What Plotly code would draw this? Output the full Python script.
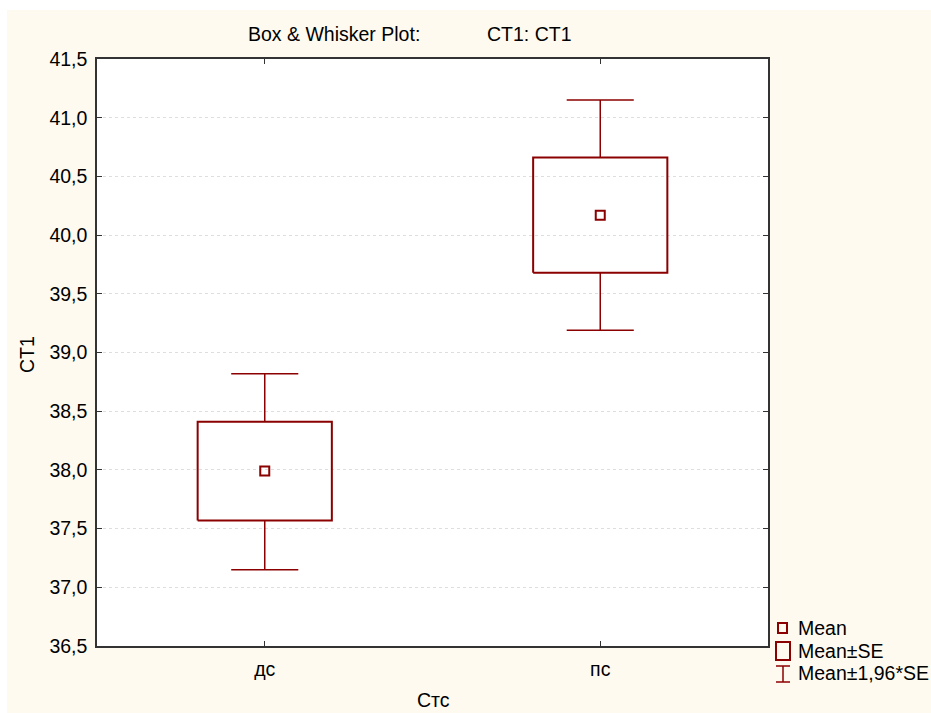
import plotly.graph_objects as go

# ---- data ----
categories = ["дс", "пс"]
mean = [37.99, 40.17]
se_low = [37.57, 39.68]
se_high = [38.41, 40.66]
ci_low = [37.15, 39.19]
ci_high = [38.82, 41.15]
y_tickvals = [36.5, 37.0, 37.5, 38.0, 38.5, 39.0, 39.5, 40.0, 40.5, 41.0, 41.5]
y_ticktext = ["36,5", "37,0", "37,5", "38,0", "38,5", "39,0", "39,5", "40,0", "40,5", "41,0", "41,5"]

W, H = 931, 713
L, R, T, B = 97, 768, 59, 646
FONT = "Liberation Sans, Arial, sans-serif"
RED = "#8B0000"
CREAM = "#FEFAF0"
FS = 19.5

def px(x):
    return (x - L) / (R - L)

def py(y):
    return (B - y) / (B - T)

fig = go.Figure()
box_half = 0.2
cap_half = 0.1
xs = list(range(len(categories)))
for i in xs:
    # Mean ± SE box
    fig.add_trace(go.Scatter(
        x=[i - box_half, i + box_half, i + box_half, i - box_half, i - box_half],
        y=[se_low[i], se_low[i], se_high[i], se_high[i], se_low[i]],
        mode="lines", line=dict(color=RED, width=2), showlegend=False, hoverinfo="skip"))
    # whiskers
    fig.add_trace(go.Scatter(
        x=[i, i, None, i - cap_half, i + cap_half, None, i, i, None, i - cap_half, i + cap_half],
        y=[se_high[i], ci_high[i], None, ci_high[i], ci_high[i], None,
           se_low[i], ci_low[i], None, ci_low[i], ci_low[i]],
        mode="lines", line=dict(color=RED, width=1.5), showlegend=False, hoverinfo="skip"))
# means
fig.add_trace(go.Scatter(
    x=xs, y=mean, mode="markers",
    marker=dict(symbol="square-open", size=9, color=RED, line=dict(color=RED, width=2)),
    showlegend=False))

shapes = []
# white strips at top and left of the page
shapes.append(dict(type="rect", xref="paper", yref="paper", x0=px(-5), x1=px(W + 5),
                   y0=py(10), y1=py(-5), fillcolor="white", line=dict(width=0), layer="above"))
shapes.append(dict(type="rect", xref="paper", yref="paper", x0=px(-5), x1=px(7),
                   y0=py(H + 5), y1=py(-5), fillcolor="white", line=dict(width=0), layer="above"))
# custom legend
shapes.append(dict(type="rect", xref="paper", yref="paper", x0=px(778), x1=px(787),
                   y0=py(633), y1=py(623), line=dict(color=RED, width=2)))
shapes.append(dict(type="rect", xref="paper", yref="paper", x0=px(776), x1=px(790),
                   y0=py(660), y1=py(642), line=dict(color=RED, width=2)))
shapes.append(dict(type="line", xref="paper", yref="paper", x0=px(783), x1=px(783),
                   y0=py(682), y1=py(666), line=dict(color=RED, width=1.5)))
shapes.append(dict(type="line", xref="paper", yref="paper", x0=px(776), x1=px(790),
                   y0=py(666), y1=py(666), line=dict(color=RED, width=1.5)))
shapes.append(dict(type="line", xref="paper", yref="paper", x0=px(776), x1=px(790),
                   y0=py(682), y1=py(682), line=dict(color=RED, width=1.5)))

annotations = []
for txt, yy in [("Mean", 628), ("Mean±SE", 651), ("Mean±1,96*SE", 673)]:
    annotations.append(dict(text=txt, xref="paper", yref="paper", x=px(796), y=py(yy),
                            xanchor="left", yanchor="middle", showarrow=False,
                            font=dict(family=FONT, size=FS, color="black")))
annotations.append(dict(text="Box & Whisker Plot:", xref="paper", yref="paper", x=px(246), y=py(34),
                        xanchor="left", yanchor="middle", showarrow=False,
                        font=dict(family=FONT, size=FS, color="black")))
annotations.append(dict(text="CT1: CT1", xref="paper", yref="paper", x=px(485), y=py(34),
                        xanchor="left", yanchor="middle", showarrow=False,
                        font=dict(family=FONT, size=FS, color="black")))
annotations.append(dict(text="CT1", xref="paper", yref="paper", x=px(27), y=py(355),
                        xanchor="center", yanchor="middle", showarrow=False, textangle=-90,
                        font=dict(family=FONT, size=FS, color="black")))
annotations.append(dict(text="Стс", xref="paper", yref="paper", x=px(433), y=py(700),
                        xanchor="center", yanchor="middle", showarrow=False,
                        font=dict(family=FONT, size=FS, color="black")))

fig.update_layout(
    width=W, height=H,
    margin=dict(l=L, r=W - R, t=T, b=H - B, pad=0),
    paper_bgcolor=CREAM, plot_bgcolor="white",
    shapes=shapes, annotations=annotations,
    showlegend=False,
    font=dict(family=FONT, size=FS, color="black"),
)
fig.update_xaxes(
    range=[-0.5, 1.5], tickvals=xs, ticktext=categories,
    showgrid=False, zeroline=False, showline=True, linecolor="#333333", linewidth=1.5,
    mirror="ticks", ticks="inside", ticklen=5, tickcolor="#333333",
    ticklabelstandoff=5,
    tickfont=dict(family=FONT, size=FS, color="black"))
fig.update_yaxes(
    range=[36.5, 41.5], tickvals=y_tickvals, ticktext=y_ticktext,
    showgrid=True, gridcolor="#dedede", griddash="dot", gridwidth=1,
    zeroline=False, showline=True, linecolor="#333333", linewidth=1.5,
    mirror="ticks", ticks="inside", ticklen=5, tickcolor="#333333",
    ticklabelstandoff=4,
    tickfont=dict(family=FONT, size=FS, color="black"))

fig.write_html("out.html")
